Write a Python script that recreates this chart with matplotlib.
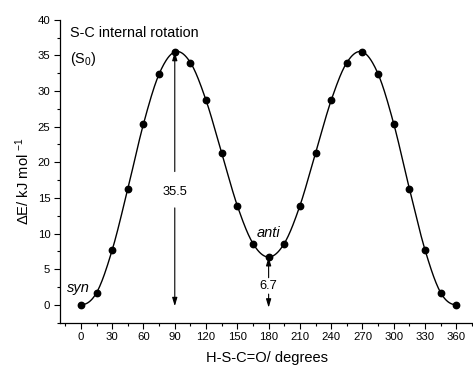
import numpy as np
import matplotlib
matplotlib.use('Agg')
import matplotlib.pyplot as plt
from matplotlib.ticker import MultipleLocator

plt.rcParams['font.family'] = ['Liberation Sans', 'DejaVu Sans']
plt.rcParams['mathtext.fontset'] = 'custom'
plt.rcParams['mathtext.rm'] = 'Liberation Sans'
plt.rcParams['mathtext.it'] = 'Liberation Sans:italic'

# dihedral angle H-S-C=O (degrees) and relative energy (kJ/mol)
angle = [0, 15, 30, 45, 60, 75, 90, 105, 120, 135, 150, 165, 180,
         195, 210, 225, 240, 255, 270, 285, 300, 315, 330, 345, 360]
energy = [0.0, 1.7, 7.7, 16.3, 25.4, 32.4, 35.5, 34.0, 28.7, 21.3, 13.9, 8.6, 6.7,
          8.6, 13.9, 21.3, 28.7, 34.0, 35.5, 32.4, 25.4, 16.3, 7.7, 1.7, 0.0]

barrier = 35.5
anti_energy = 6.7


def smooth(x, y, n=20):
    # cubic hermite through the points, slopes from neighbours (periodic ends)
    x = np.asarray(x, float)
    y = np.asarray(y, float)
    m = np.zeros_like(y)
    m[1:-1] = (y[2:] - y[:-2]) / (x[2:] - x[:-2])
    m[0] = (y[1] - y[-2]) / (2 * (x[1] - x[0]))
    m[-1] = m[0]
    xs, ys = [], []
    for i in range(len(x) - 1):
        h = x[i + 1] - x[i]
        t = np.linspace(0, 1, n, endpoint=False)
        h00 = 2 * t**3 - 3 * t**2 + 1
        h10 = t**3 - 2 * t**2 + t
        h01 = -2 * t**3 + 3 * t**2
        h11 = t**3 - t**2
        xs.append(x[i] + t * h)
        ys.append(h00 * y[i] + h10 * h * m[i] + h01 * y[i + 1] + h11 * h * m[i + 1])
    xs.append([x[-1]])
    ys.append([y[-1]])
    return np.concatenate(xs), np.concatenate(ys)


fig = plt.figure(figsize=(4.73, 3.67), dpi=100)
ax = fig.add_axes([0.127, 0.121, 0.873, 0.825])

sx, sy = smooth(angle, energy)
ax.plot(sx, sy, color='black', lw=1.0)
ax.plot(angle, energy, 'o', color='black', ms=4.6)

ax.set_xlim(-20, 376)
ax.set_ylim(-2.5, 40)
ax.xaxis.set_major_locator(MultipleLocator(30))
ax.xaxis.set_minor_locator(MultipleLocator(15))
ax.yaxis.set_major_locator(MultipleLocator(5))
ax.yaxis.set_minor_locator(MultipleLocator(2.5))
ax.set_xticks(range(0, 361, 30))
ax.tick_params(which='major', direction='out', length=4, width=0.8, labelsize=8.2, pad=3)
ax.tick_params(which='minor', direction='out', length=2, width=0.8)
ax.spines['top'].set_visible(False)
ax.spines['right'].set_visible(False)
ax.spines['left'].set_linewidth(0.9)
ax.spines['bottom'].set_linewidth(0.9)

ax.set_xlabel('H-S-C=O/ degrees', fontsize=10.5, labelpad=6)
ax.set_ylabel('ΔE/ kJ mol $^{-1}$', fontsize=10.6)
ax.yaxis.set_label_coords(-0.068, 0.468)

ax.text(-10, 39.1, 'S-C internal rotation', fontsize=10.4, va='top')
ax.text(-10, 35.7, '(S$_0$)', fontsize=10.4, va='top')

ap = dict(arrowstyle='-|>,head_length=0.5,head_width=0.15', color='black', lw=0.8,
          shrinkA=0, shrinkB=0)
ax.annotate('', xy=(90, barrier), xytext=(90, 18.7), arrowprops=ap)
ax.annotate('', xy=(90, -0.2), xytext=(90, 13.6), arrowprops=ap)
ax.text(90, 15.9, '35.5', fontsize=9.3, ha='center', va='center')

ax.annotate('', xy=(180, anti_energy), xytext=(180, 3.8), arrowprops=ap)
ax.annotate('', xy=(180, -0.4), xytext=(180, 1.5), arrowprops=ap)
ax.text(180, 2.65, '6.7', fontsize=9.3, ha='center', va='center')

ax.text(-2, 2.4, 'syn', fontsize=10.5, style='italic', ha='center', va='center')
ax.text(180, 10.1, 'anti', fontsize=10.5, style='italic', ha='center', va='center')

fig.savefig('out.png', dpi=100)
